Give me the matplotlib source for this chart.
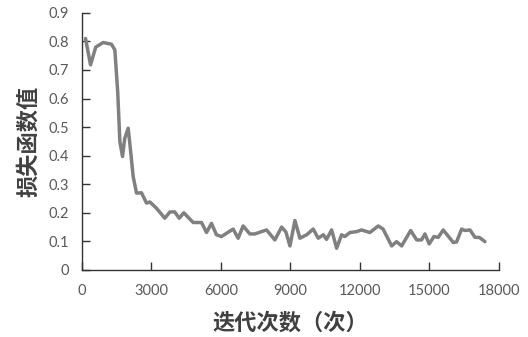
import matplotlib
matplotlib.use("Agg")
from matplotlib import pyplot as plt

plt.rcParams['font.family'] = ['Lato', 'DejaVu Sans']

# iteraciones y valor de perdida
iteraciones = [0, 160, 375, 600, 920, 1280, 1425, 1550, 1640, 1755, 1850, 2000, 2100, 2215,
               2360, 2575, 2790, 2935, 3220, 3580, 3800, 4010, 4200, 4400, 4805, 5165,
               5380, 5595, 5810, 6025, 6530, 6745, 6960, 7250, 7465, 7680, 7970, 8330,
               8620, 8805, 8980, 9195, 9410, 9700, 9985, 10200, 10420, 10560, 10780,
               10995, 11210, 11350, 11570, 11855, 12070, 12430, 12790, 13000, 13370,
               13580, 13800, 14190, 14450, 14660, 14805, 14990, 15195, 15380, 15595,
               16030, 16170, 16390, 16530, 16750, 16965, 17150, 17395]
perdida = [0.81, 0.81, 0.718, 0.78, 0.796, 0.79, 0.77, 0.62, 0.45, 0.397, 0.46, 0.496, 0.42, 0.327,
           0.269, 0.27, 0.234, 0.238, 0.216, 0.181, 0.203, 0.203, 0.181, 0.2, 0.166, 0.166,
           0.131, 0.163, 0.123, 0.117, 0.143, 0.111, 0.154, 0.126, 0.126, 0.132, 0.14, 0.105,
           0.15, 0.133, 0.084, 0.173, 0.111, 0.123, 0.143, 0.111, 0.123, 0.107, 0.14,
           0.076, 0.123, 0.117, 0.131, 0.134, 0.14, 0.131, 0.154, 0.143, 0.084,
           0.099, 0.084, 0.138, 0.105, 0.105, 0.126, 0.091, 0.117, 0.114, 0.14,
           0.096, 0.098, 0.143, 0.138, 0.14, 0.114, 0.114, 0.099]

xticks = [0, 3000, 6000, 9000, 12000, 15000, 18000]
yticks = [0, 0.1, 0.2, 0.3, 0.4, 0.5, 0.6, 0.7, 0.8, 0.9]

fig = plt.figure(figsize=(5.28, 3.37), dpi=100)
ax = fig.add_axes([0.155, 0.199, 0.79, 0.763])
ax.plot(iteraciones[1:], perdida[1:], color='#808080', linewidth=2.5,
        solid_joinstyle='round', solid_capstyle='round')

ax.set_xlim(0, 18000)
ax.set_ylim(0, 0.9)
ax.set_xticks(xticks)
ax.set_yticks(yticks)
ax.set_yticklabels(['0'] + [str(v) for v in yticks[1:]])
ax.tick_params(direction='in', length=6, width=1, colors='#333333', labelcolor='#595959', labelsize=10.5)
ax.tick_params(axis='x', pad=10)
ax.tick_params(axis='y', pad=9)
for s in ['top', 'right']:
    ax.spines[s].set_visible(False)
for s in ['left', 'bottom']:
    ax.spines[s].set_color('#333333')
    ax.spines[s].set_linewidth(1)

cjk = ['Noto Sans CJK SC', 'DejaVu Sans']
ax.set_ylabel('损失函数值', family=cjk, fontsize=16, fontweight='bold', color='#404040', labelpad=6)
ax.set_xlabel('迭代次数（次）', family=cjk, fontsize=16, fontweight='bold', color='#404040', labelpad=10)

fig.savefig('out.png', dpi=100)
